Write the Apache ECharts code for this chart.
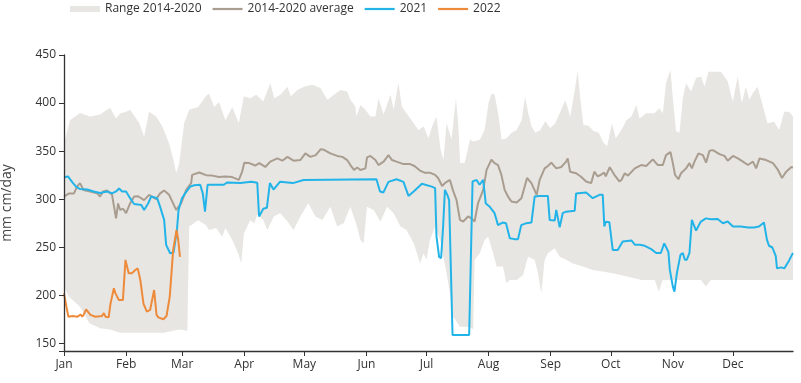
<!DOCTYPE html>
<html>
<head>
<meta charset="utf-8">
<script src="https://cdn.jsdelivr.net/npm/echarts@6/dist/echarts.min.js"></script>
<style>
html,body{margin:0;padding:0;background:#fff;}
#chart{width:801px;height:383px;}
</style>
</head>
<body>
<div id="chart"></div>
<script>
// Values: [day of year (0 = Jan 1), value in mm cm/day]
const monthLabels = ['Jan','Feb','Mar','Apr','May','Jun','Jul','Aug','Sep','Oct','Nov','Dec'];
const seriesNames = ['Range 2014-2020', '2014-2020 average', '2021', '2022'];

const rangeUpper = [[0,358],[3,382],[8,389.6],[13,386],[18,388],[23,395],[26,384],[28,389],[31,391],[33,393],[37.6,379],[40,365],[42.5,391],[46,386],[49,376],[52.5,358],[55,337.5],[56,327],[57.5,337],[60,379],[62.5,393],[67,396],[70.8,407],[72.4,410],[75,396],[77.4,401],[80.6,382],[84,396],[87.3,379],[89.8,407],[93,405],[96,408.6],[99.5,401.7],[103,420.8],[105,405],[108,408.6],[111.6,417],[113.2,407],[116.5,413.6],[119.8,417],[124,419],[128,415.6],[131.5,403.5],[134.8,408.6],[138,413.6],[141.4,412],[143,403.5],[145.5,396.5],[146,386],[148,398],[150.5,393],[153,386],[155.5,386],[157,405],[159.6,388],[163,408.6],[164.6,393],[167,420.8],[168.7,396.5],[171,389.5],[174.6,379],[177,372],[179.6,375.6],[182,363.5],[183.7,375],[186,386],[188,352],[189.5,341],[191,379],[193.5,362],[195.7,405],[196.8,379],[197.8,337.5],[200,337.5],[202,355],[202.7,362],[204.5,360],[207.7,362],[210,372],[212,400],[213.5,410],[215,408.6],[216.8,389.5],[218.5,362],[221,363.5],[223.5,369],[226,372],[228.5,382],[230.2,406.7],[231.8,389.5],[233.5,375.6],[235.3,369],[237.8,372],[240.3,381],[242.8,374],[245.3,379],[247.8,391],[250.3,403],[252.8,386],[255.3,417],[256.5,433],[257.8,405],[259.3,377.5],[262,376],[264.4,371],[267,369],[269.5,358.4],[271.2,355],[273.6,379],[275.5,363.5],[278.3,372],[280.8,382],[283.3,386],[285.8,398],[287.4,384],[290.7,389.5],[294.8,389.5],[297.3,394.5],[299,389.5],[300.6,420.8],[302.8,434.7],[304,405],[305.6,371],[307.3,369],[309,405],[310.6,420.8],[313.1,412],[315.6,426],[318.1,427.6],[319.8,417],[321.8,432.6],[324.8,432.6],[328.1,432.6],[331.4,422.5],[333.9,401.7],[336.4,427.6],[338.4,400],[340.5,417],[342.2,403.5],[343.8,410],[346.3,417],[348.8,398],[351.3,379],[354.6,380.5],[357.1,372],[359.6,391],[362.1,391],[364,386]];

const rangeLower = [[0,209],[2.5,198.5],[8,188],[12.7,171],[18,165.6],[23,164.5],[28,161],[40,161],[50,161],[57.5,164.5],[61.6,163],[62.5,271.5],[67,278],[70.8,273],[72.5,268],[76,270],[79,261],[80.6,270],[84,257.6],[87,243.7],[88.5,233],[89.8,264],[93,278],[95,275],[96.5,284],[99.5,278.4],[101.5,268],[104.8,282],[108,285.4],[111.6,276.7],[114.6,268],[118,282],[122,295.8],[125.5,282],[129,278.4],[133,292],[136.4,271.5],[139.6,275],[143,292],[146.3,271.5],[148,257.6],[149.6,254],[151.3,292],[154.6,288.8],[158,276.7],[161.3,292],[164.6,285.4],[168,271.5],[171,268],[174.6,254],[176.2,243.7],[177.8,233],[179.5,243.7],[181,237],[182.7,257.6],[185.3,271.5],[187.8,257.6],[191,223],[192.7,202],[194.4,177.7],[197.7,167.3],[202.6,167],[204.3,164.5],[205,236.8],[207.6,243.7],[210,257.6],[211.8,261],[214.3,243.7],[216,229.8],[219.2,229.8],[220.9,212.5],[222.6,216],[226,216],[229.2,221],[231.7,240],[235,237],[236.7,223],[238.3,202],[240,236.8],[241.6,243.7],[245,249],[247.5,240],[250.7,237],[254,233],[259,229.8],[264,226.3],[269,224.6],[274,223],[281.6,219.3],[288.4,216],[295,216],[297,204],[299,216],[318,216],[320.5,209],[323,216],[364,216]];

const avg = [[0,302.7],[2.5,306],[5,306],[6.5,313],[8,316.7],[9.7,309.6],[13,308],[16.6,306],[18,302.7],[19.5,308],[21.5,309],[24,304.5],[25,292],[26,280],[27,295.5],[28,288.8],[29.5,290],[31,285.4],[33,295.5],[35,302.7],[37,303],[40,299],[42.5,304.5],[46,300],[48,306],[50,309],[52.5,304.5],[56,288.8],[58.5,295.5],[61,309.7],[63.5,316.7],[64,325.3],[67.5,327.7],[71,325],[74,324.5],[77.4,323],[80.6,323.6],[84,323],[87.3,320],[89,328.8],[90,338],[92.5,337.5],[95.5,335],[97.5,337.5],[100.5,333.5],[103,339],[106.5,342.4],[109,340],[111.6,344],[114.6,340],[118,340.7],[120.5,347.6],[123,344],[125.7,345.8],[128.2,352],[129.8,351.4],[133,347.6],[136.4,345],[139,344],[141.4,340.7],[143,335.5],[144.8,330.4],[146.4,333],[148,330.4],[150.5,332],[151.3,343.5],[153,345],[155.5,340.7],[157,335.5],[159.6,339],[162,345.8],[163.8,340.7],[166,339],[169.5,336.5],[172.8,336.5],[175,334.5],[177.7,329.7],[180,327.6],[182.6,327.6],[185.3,325.3],[186.8,322],[188.8,313.7],[190.5,317.3],[192.7,320],[194.4,308],[196,299],[197.7,278.4],[199.3,276.7],[201.8,282],[203.4,280],[205,276.7],[206.7,295.5],[209.3,309.7],[211,330.5],[213.4,341],[215,337.5],[216.7,335.5],[218.4,325.3],[220,309.7],[221.7,302.7],[223.4,297.6],[226,296.5],[228.4,301],[230,313],[231.2,322],[233.4,316.7],[236,304.5],[237.5,320],[240,332],[241.6,334.5],[243.3,338],[245.8,332],[248.3,333.5],[250.7,339],[251.5,342.4],[252.7,328.6],[255.7,327],[258,323.6],[260.7,318.4],[263.2,316.7],[264.8,328.6],[266.5,323.6],[268,325.3],[269.7,327.6],[270.5,323.6],[272.5,333.2],[274.8,325.3],[277.3,318.4],[278.3,320],[280,327],[281.6,324.5],[285,332],[288.2,335.5],[290.7,334.5],[294,341.4],[296.5,335.5],[299,335.5],[300.6,345.8],[302.8,349],[304,337.5],[305.1,325.3],[306.8,320.7],[308.1,327],[310.6,332],[312.3,337.5],[313.5,332],[314.8,339],[316.8,347.6],[319,345.8],[320.6,338],[322.3,350.3],[324,351],[327.3,346.8],[329.8,345],[331.4,340],[334,345],[336.5,342.4],[339,339],[341.5,335.5],[344,339],[345.6,332],[347.3,342.4],[350.6,340.7],[354,337.5],[356.5,330.4],[358.5,322],[360.6,328.6],[363.2,333.5],[364,333]];

const y2021 = [[0,322.9],[2,323.6],[4.3,317.3],[6,313],[8,310.5],[11.6,310],[14.8,308],[18,306.5],[21.5,308],[24,306],[26,308],[27.5,311],[29,308],[31,308],[33,301],[35,295],[38.6,294],[40,288.8],[42,295.5],[43.5,302.7],[46.5,301],[48,292],[50,278.4],[51,252.4],[53,243.7],[54.7,244.5],[56.4,268],[57.2,288.8],[58.9,301],[60.5,306],[63,313],[65,314.5],[68,315],[69.3,306],[70.4,287],[71.7,315],[74.8,315],[79.8,315],[81.4,317.3],[88,316.7],[93.5,318],[96.5,317],[97.4,282],[99.5,290],[101.3,291],[102.8,316.7],[104.6,310],[107.8,318],[114.3,316.7],[119.6,320],[156,320.7],[157.8,308],[159.5,307],[162,318],[166,320.7],[169.5,318],[172,303.4],[174.6,308],[178.7,316],[183.6,313],[185.3,311.5],[186,261],[187.3,240],[188.3,238.5],[189.3,271.5],[190.2,309.7],[191.5,304],[192.3,299],[194,158.6],[202.3,158.6],[204,318.4],[206,320],[207.5,315],[209.3,320],[210.6,295.5],[212.6,292],[215,285.4],[216.7,273],[219,275.7],[220.7,275],[222.6,259.4],[225,258.4],[226.7,258.4],[228.3,273],[230.9,275],[233.4,275.7],[235,302.7],[237.5,303.4],[241.6,303.4],[242.5,278.4],[245,277.7],[245.8,288.9],[247.5,270.6],[249,285.4],[250.7,287],[255,288],[255.7,306],[260.7,307],[264,301],[267.4,304.5],[269,304.5],[269.8,271.5],[270.5,276.4],[272.3,276],[274,247],[276.5,247],[279,256],[283.3,257],[285,252.6],[287.5,252.6],[290,251.5],[293.2,248],[294,250],[295.7,244],[298,244],[299.7,254],[300.6,256],[301.8,245],[302.5,226.4],[304,209],[304.8,203.8],[306,222.8],[307.8,242],[309,244],[310,237],[311,237],[312.3,244],[313.5,278.4],[315.6,267.3],[318,276.7],[320.5,280],[323,279],[326.4,279.4],[329,275],[331.4,276.7],[334,271.5],[338,271.5],[341.5,270.6],[344.6,270.6],[347,271.5],[349.5,275.7],[351,257.7],[352,251.5],[353.7,249.7],[355.4,240.8],[356,228],[358,229],[359.7,228],[360.3,226.7],[362,236],[363.7,243],[364,244]];

const y2022 = [[0,202],[1.2,188],[2.2,177.7],[4.2,178.4],[6.7,177.7],[8.3,180],[9.1,177.7],[9.9,180],[11,185.4],[13.2,179.6],[15.7,177.7],[19,178.4],[19.9,181.5],[20.7,177.7],[22.3,177],[23.2,191],[24,191.5],[24.9,207.3],[25.7,202],[27.4,195],[29.4,195],[30.7,236.8],[32.3,223],[34,223],[35.6,226.3],[36.8,228],[38.1,216],[39.7,191],[41.4,183],[43,184.7],[45,205.5],[46.2,179.6],[47.1,177],[49.6,175],[51.2,178.4],[52.8,198.6],[54.5,247],[56.2,268],[57,258],[57.9,240]];

const DAY = 86400000;
const T0 = new Date(2021, 0, 1).getTime();
const TEND = new Date(2021, 11, 31).getTime();
const toTime = arr => arr.map(p => [T0 + p[0] * DAY, p[1]]);

const C_RANGE = '#e8e6e3', C_AVG = '#a99d90', C_21 = '#22b4e8', C_22 = '#ee8b3b';
const TXT = '#333';
const FONT = '"Open Sans", "Noto Sans", sans-serif';
const LINE_ICON = 'path://M0,0 L30,0 L30,2.2 L0,2.2 Z';

const chart = echarts.init(document.getElementById('chart'), null, {renderer: 'canvas'});
chart.setOption({
  animation: false,
  backgroundColor: '#fff',
  textStyle: {fontFamily: FONT},
  legend: {
    left: 65, top: -2,
    itemWidth: 30, itemHeight: 6, itemGap: 11,
    textStyle: {color: TXT, fontSize: 12, fontFamily: FONT},
    data: [
      {name: seriesNames[0], icon: 'rect', itemStyle: {color: C_RANGE}},
      {name: seriesNames[1], icon: LINE_ICON, itemStyle: {color: C_AVG}},
      {name: seriesNames[2], icon: LINE_ICON, itemStyle: {color: C_21}},
      {name: seriesNames[3], icon: LINE_ICON, itemStyle: {color: C_22}}
    ]
  },
  grid: {left: 64, right: 8, top: 55, bottom: 32, containLabel: false, outerBoundsMode: 'none'},
  xAxis: {
    type: 'time', min: T0, max: TEND, splitNumber: 12,
    minInterval: 28 * DAY, maxInterval: 31 * DAY,
    z: 5,
    axisLine: {lineStyle: {color: TXT, width: 1.3}},
    axisTick: {show: true, length: 5, lineStyle: {color: TXT}},
    axisLabel: {color: TXT, fontSize: 12, fontFamily: FONT, margin: 8,
      formatter: v => monthLabels[new Date(v).getMonth()]},
    splitLine: {show: false}
  },
  yAxis: {
    type: 'value', min: 142, max: 450, minInterval: 50, maxInterval: 50,
    z: 5,
    name: 'mm cm/day', nameLocation: 'middle', nameGap: 50,
    nameTextStyle: {color: '#444', fontSize: 14, fontFamily: FONT},
    axisLine: {show: true, lineStyle: {color: TXT, width: 1.3}},
    axisTick: {show: true, length: 5, lineStyle: {color: TXT}},
    axisLabel: {color: TXT, fontSize: 12, fontFamily: FONT, margin: 8,
      formatter: v => (v % 50 === 0 ? String(v) : '')},
    splitLine: {show: false}
  },
  series: [
    {name: seriesNames[0], type: 'line', data: toTime(rangeUpper), symbol: 'none',
      lineStyle: {width: 0, opacity: 0}, itemStyle: {color: C_RANGE},
      areaStyle: {color: C_RANGE, opacity: 1, origin: 'start'}, silent: true, z: 1},
    {name: 'rangeLower', type: 'line', data: toTime(rangeLower), symbol: 'none',
      lineStyle: {width: 0, opacity: 0}, itemStyle: {color: '#fff'},
      areaStyle: {color: '#fff', opacity: 1, origin: 'start'}, silent: true, z: 1},
    {name: seriesNames[1], type: 'line', data: toTime(avg), symbol: 'none',
      lineStyle: {color: C_AVG, width: 2}, itemStyle: {color: C_AVG}, z: 2},
    {name: seriesNames[2], type: 'line', data: toTime(y2021), symbol: 'none',
      lineStyle: {color: C_21, width: 2}, itemStyle: {color: C_21}, z: 3},
    {name: seriesNames[3], type: 'line', data: toTime(y2022), symbol: 'none',
      lineStyle: {color: C_22, width: 2}, itemStyle: {color: C_22}, z: 4}
  ]
});
</script>
</body>
</html>
